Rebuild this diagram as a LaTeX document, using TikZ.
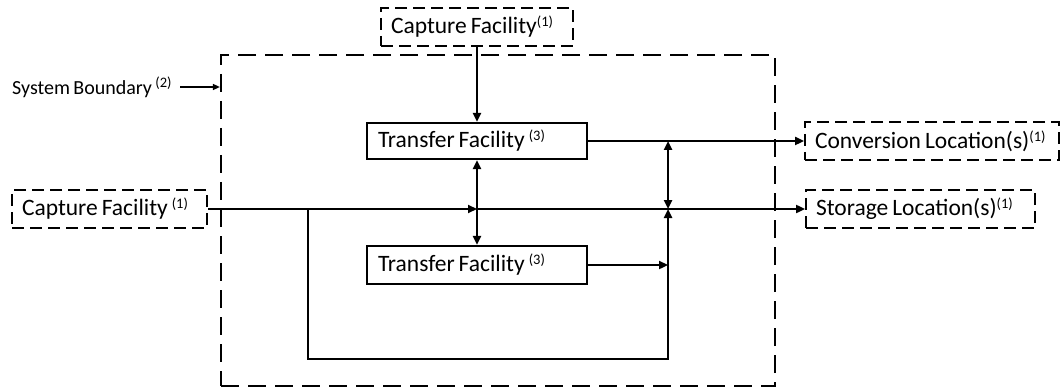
\documentclass[tikz,border=0pt]{standalone}
\usepackage{fontspec}
\setmainfont{Carlito}[WordSpace=0.75]
\usetikzlibrary{arrows.meta}
\newcommand\supnote[1]{\raisebox{7pt}{\fontsize{14.5}{14.5}\selectfont #1}}
\newcommand\lbox[2]{\makebox[#1][l]{#2}}
\begin{document}
\begin{tikzpicture}[x=1pt,y=-1pt,
  txt/.style={font=\fontsize{23.5}{28}\selectfont},
  solidbox/.style={draw,line width=2.2pt,inner xsep=11pt,inner ysep=0pt,txt},
  dashbox/.style={draw,line width=2pt,dash pattern=on 12pt off 6pt,inner xsep=10pt,inner ysep=0pt,txt},
  conn/.style={line width=2.7pt},
  arr/.style={conn,-{Triangle[length=9pt,width=8pt]}},
  darr/.style={conn,{Triangle[length=9pt,width=8pt]}-{Triangle[length=9pt,width=8pt]}}
]
\useasboundingbox (0,0) rectangle (1062,390);
% system boundary
\node[draw,line width=2.2pt,dash pattern=on 18pt off 9pt,minimum width=554pt,minimum height=331pt,inner sep=0pt] (sb) at (498,220.5) {};
\node[anchor=west,font=\fontsize{20}{24}\selectfont,inner sep=0pt] (sbl) at (12,87) {System Boundary \supnote{(2)}};
\draw[line width=1.5pt,-{Triangle[length=7pt,width=6pt]}] (180,87) coordinate (sbs) -- (sb.west |- sbs);
% boxes
\node[dashbox,minimum height=38pt] (capTop) at (477,27) {\lbox{172pt}{Capture Facility\supnote{(1)}}};
\node[dashbox,minimum height=38pt] (capLeft) at (109.5,209) {\lbox{175pt}{Capture Facility \supnote{(1)}}};
\node[solidbox,minimum height=36pt] (tfUp) at (477,141) {\lbox{198pt}{Transfer Facility \supnote{(3)}}};
\node[solidbox,minimum height=38pt] (tfLow) at (477,265) {\lbox{198pt}{Transfer Facility \supnote{(3)}}};
\node[dashbox,minimum height=38pt] (conv) at (932,141) {\lbox{234pt}{Conversion Location(s)\supnote{(1)}}};
\node[dashbox,minimum height=38pt] (stor) at (920.5,209) {\lbox{209pt}{Storage Location(s)\supnote{(1)}}};
% junction coordinates
\coordinate (jM) at (477,209);
\coordinate (jB) at (308,209);
\coordinate (jC) at (668,141);
\coordinate (jS) at (668,209);
\coordinate (jL) at (668,265);
% connectors
\draw[arr] (capTop.south) -- (tfUp.north);
\draw[arr] (capLeft.east) -- (jM);
\draw[arr] (jM) -- (stor.west);
\draw[darr] (tfUp.south) -- (tfLow.north);
\draw[arr] (tfUp.east) -- (conv.west);
\draw[darr] (jC) -- (jS);
\draw[arr] (tfLow.east) -- (jL);
\draw[arr] (jB) -- (308,359) -- (668,359) -- (jS);
\end{tikzpicture}
\end{document}
